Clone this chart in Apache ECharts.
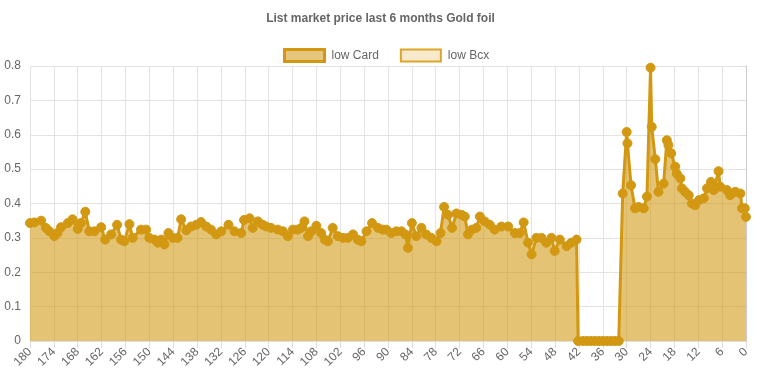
<!DOCTYPE html>
<html>
<head>
<meta charset="utf-8">
<script src="https://cdn.jsdelivr.net/npm/echarts@6/dist/echarts.min.js"></script>
<style>html,body{margin:0;padding:0;background:#fff}#c{width:761px;height:380px}</style>
</head>
<body>
<div id="c"></div>
<script>
var titleText = 'List market price last 6 months Gold foil';
var seriesNames = ['low Card', 'low Bcx'];
// days before today (x) and low Card price (y)
var days = [180,178.9,177.2,176,175.1,173.9,173.1,172.2,170.5,169.3,168,167.2,166.1,165.1,163.8,162.1,161.1,159.6,158.1,157.1,156.3,155,154.2,152.1,
150.8,150,148.7,147.9,147,146.2,145.2,144.1,142.9,142,140.7,139.5,138.2,137,135.7,134.5,133.2,131.9,130.1,128.6,126.9,126.2,124.8,124,122.7,121.5,
120.6,119.4,117.7,116.4,115.2,113.9,112.7,111.8,111,110.1,109.3,108,106.8,105.9,105.1,103.9,102.6,101.3,100.1,98.8,97.6,96.7,95.4,94,92.5,91.3,
90.4,89.2,87.9,86.6,85.6,85,84,82.9,81.6,80.4,79.1,77.8,76.8,75.9,74.9,73.9,72.8,71.5,70.7,69.9,68.9,67.8,66.9,65.7,64.4,63.2,61.5,
59.8,58.1,56.9,55.9,54.8,53.9,52.7,51.4,50.2,48.9,48.1,46.8,45.1,43.9,42.6,
42.2,41,40,39,38,37,36,35,34,33,32,
31,30,29.8,28.9,27.9,27,25.7,24.9,24,23.7,22.8,22,20.7,19.9,19.5,18.8,17.8,17.4,16.5,16.1,15.3,14.4,13.6,12.8,11.8,10.6,9.8,8.8,8.1,6.9,6.5,4.8,4,2.7,1.4,1,0.3,0];
var lowCard = [0.343,0.345,0.35,0.329,0.319,0.305,0.314,0.331,0.343,0.354,0.326,0.343,0.376,0.319,0.319,0.331,0.295,0.31,0.338,0.295,0.29,0.34,0.3,0.324,
0.324,0.3,0.295,0.286,0.295,0.281,0.314,0.3,0.3,0.354,0.322,0.333,0.338,0.346,0.333,0.324,0.31,0.319,0.338,0.319,0.314,0.352,0.357,0.329,0.348,0.338,
0.333,0.329,0.324,0.319,0.305,0.324,0.324,0.329,0.348,0.305,0.319,0.335,0.314,0.295,0.29,0.329,0.305,0.3,0.3,0.31,0.295,0.29,0.319,0.343,0.329,0.324,
0.324,0.314,0.319,0.319,0.31,0.271,0.343,0.305,0.329,0.31,0.3,0.29,0.314,0.39,0.367,0.329,0.371,0.367,0.362,0.31,0.324,0.329,0.362,0.348,0.338,0.324,0.333,
0.333,0.314,0.314,0.345,0.286,0.252,0.3,0.3,0.286,0.3,0.262,0.295,0.276,0.286,0.295,
0,0,0,0,0,0,0,0,0,0,0,
0.429,0.608,0.575,0.453,0.386,0.39,0.386,0.42,0.795,0.623,0.529,0.434,0.458,0.584,0.57,0.546,0.507,0.487,0.473,0.444,0.434,0.424,0.4,0.395,0.41,0.415,0.444,0.463,0.439,0.494,0.449,0.439,0.424,0.434,0.429,0.386,0.386,0.361];
var lowBcx = [];

var cardData = days.map(function(d, i){ return [d, lowCard[i]]; });
var bcxData = lowBcx.map(function(p){ return p; });

var gold = 'rgb(210,152,18)';
var chart = echarts.init(document.getElementById('c'));
chart.setOption({
  animation: false,
  textStyle: {fontFamily: 'Liberation Sans, Arial, sans-serif'},
  title: {
    text: titleText, left: 'center', top: 8,
    textStyle: {fontSize: 12, fontWeight: 'bold', color: '#666', fontFamily: 'Liberation Sans, Arial, sans-serif'}
  },
  legend: {
    top: 43, left: 278, itemWidth: 40, itemHeight: 12, itemGap: 21,
    textStyle: {fontSize: 12, color: '#666', padding: [0, 0, 0, 2]},
    data: [
      {name: seriesNames[0], icon: 'rect', itemStyle: {color: 'rgba(210,152,18,0.55)', borderColor: gold, borderWidth: 3}},
      {name: seriesNames[1], icon: 'rect', itemStyle: {color: 'rgba(232,195,110,0.35)', borderColor: 'rgb(220,165,40)', borderWidth: 2}}
    ]
  },
  grid: {left: 30, right: 15, top: 66, bottom: 39, containLabel: false},
  xAxis: {
    type: 'value', min: 0, max: 180, interval: 6, inverse: true,
    axisLine: {show: true, lineStyle: {color: '#ddd'}},
    axisTick: {show: true, length: 7, lineStyle: {color: '#ddd'}},
    splitLine: {show: true, lineStyle: {color: '#e3e3e3'}},
    axisLabel: {rotate: 45, fontSize: 12, color: '#666', margin: 9}
  },
  yAxis: {
    type: 'value', min: 0, max: 0.8, interval: 0.1,
    axisLine: {show: true, lineStyle: {color: '#ccc'}},
    axisTick: {show: true, length: 7, lineStyle: {color: '#ddd'}},
    splitLine: {show: true, lineStyle: {color: '#e3e3e3'}},
    axisLabel: {fontSize: 12, color: '#666', margin: 9}
  },
  series: [
    {
      name: seriesNames[0], type: 'line', data: cardData,
      symbol: 'circle', symbolSize: 9,
      itemStyle: {color: gold, borderColor: gold, borderWidth: 1},
      lineStyle: {color: gold, width: 3},
      areaStyle: {color: 'rgba(212,160,30,0.62)', opacity: 1, origin: 'start'}
    },
    {
      name: seriesNames[1], type: 'line', data: bcxData,
      symbol: 'circle', symbolSize: 9,
      itemStyle: {color: 'rgba(232,195,110,0.35)', borderColor: 'rgb(220,165,40)'},
      lineStyle: {color: 'rgb(220,165,40)', width: 3},
      areaStyle: {color: 'rgba(232,195,110,0.35)', opacity: 1}
    }
  ]
});
</script>
</body>
</html>
